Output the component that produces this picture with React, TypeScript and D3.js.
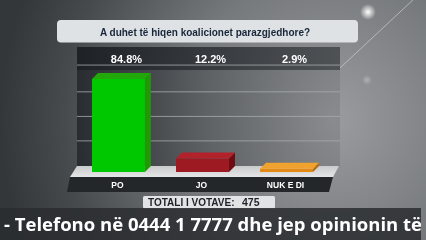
import React from "react";
import * as d3 from "d3";

const categories = ["PO", "JO", "NUK E DI"];
const values = [84.8, 12.2, 2.9];
const valueLabels = ["84.8%", "12.2%", "2.9%"];
const title = "A duhet të hiqen koalicionet parazgjedhore?";
const totalLabel = "TOTALI I VOTAVE:";
const totalVotes = "475";
const ticker = "- Telefono në 0444 1 7777 dhe jep opinionin të";
const gridValues = [22.9, 45.2, 67.6, 92];

const colors = [
  { front: "#00c800", side: "#1f9a06", top: "#22a80a" },
  { front: "#9e1a22", side: "#6e0c12", top: "#b2222a" },
  { front: "#e48a14", side: "#b86a0a", top: "#f0a22e" },
];

const W = 426;
const H = 240;
const DX = 6;
const DY = -6;

export default function App() {
  const x = d3.scaleBand<string>().domain(categories).range([92, 313]).paddingInner(0.37).paddingOuter(0);
  const y = d3.scaleLinear().domain([0, 100]).range([172, 62.3]);
  const base = y(0);
  const font = "'Liberation Sans', Arial, sans-serif";

  return (
    <svg width={W} height={H} style={{ position: "fixed", left: 0, top: 0 }}>
      <defs>
        <radialGradient id="bg" cx="330" cy="120" r="330" gradientUnits="userSpaceOnUse">
          <stop offset="0" stopColor="#9a9c9e" />
          <stop offset="0.45" stopColor="#76797c" />
          <stop offset="0.8" stopColor="#484b4e" />
          <stop offset="1" stopColor="#34373a" />
        </radialGradient>
        <linearGradient id="plot" x1="77" x2="340" y1="0" y2="0" gradientUnits="userSpaceOnUse">
          <stop offset="0" stopColor="#23272b" stopOpacity="0.85" />
          <stop offset="0.5" stopColor="#3a3e42" stopOpacity="0.45" />
          <stop offset="1" stopColor="#5a5e62" stopOpacity="0.25" />
        </linearGradient>
        <linearGradient id="head" x1="77" x2="340" y1="0" y2="0" gradientUnits="userSpaceOnUse">
          <stop offset="0" stopColor="#1c2024" stopOpacity="0.95" />
          <stop offset="1" stopColor="#3a3e42" stopOpacity="0.75" />
        </linearGradient>
        <linearGradient id="floor" x1="0" x2="0" y1="166" y2="177" gradientUnits="userSpaceOnUse">
          <stop offset="0" stopColor="#c8cacc" />
          <stop offset="1" stopColor="#e4e6e8" />
        </linearGradient>
        <radialGradient id="glow">
          <stop offset="0" stopColor="#ffffff" stopOpacity="1" />
          <stop offset="0.4" stopColor="#ffffff" stopOpacity="0.6" />
          <stop offset="1" stopColor="#ffffff" stopOpacity="0" />
        </radialGradient>
        <clipPath id="tickclip">
          <rect x={0} y={208} width={421} height={32} />
        </clipPath>
      </defs>

      <rect x={0} y={0} width={W} height={H} fill="url(#bg)" />
      <line x1={340} y1={68} x2={415} y2={-2} stroke="#d8dadc" strokeOpacity={0.6} strokeWidth={1} />
      <circle cx={368} cy={12} r={8} fill="url(#glow)" />
      <circle cx={367} cy={80} r={5} fill="url(#glow)" opacity={0.3} />

      {/* title */}
      <rect x={57} y={20} width={301} height={22.5} rx={4} fill="#dfe2e5" />
      <text x={205} y={35.5} textAnchor="middle" fontFamily={font} fontWeight="bold" fontSize={10} fill="#17263a">
        {title}
      </text>

      {/* plot area */}
      <rect x={77} y={70} width={263} height={97} fill="url(#plot)" />
      <rect x={77} y={47} width={263} height={23} fill="url(#head)" />
      {gridValues.map((g, i) => (
        <line key={i} x1={77} x2={340} y1={y(g) + DY} y2={y(g) + DY} stroke="#a8abae" strokeOpacity={0.8} strokeWidth={1} />
      ))}
      {valueLabels.map((v, i) => (
        <text key={v} x={(x(categories[i]) as number) + x.bandwidth() / 2 + 8} y={62.5} textAnchor="middle" fontFamily={font} fontWeight="bold" fontSize={11} fill="#ffffff">
          {v}
        </text>
      ))}

      {/* floor */}
      <polygon points="77,166 339,166 333,177 70,177" fill="url(#floor)" />
      <polygon points="70,177 333,177 329,192 67,192" fill="#24272a" />

      {/* bars */}
      {categories.map((c, i) => {
        const x0 = x(c) as number;
        const x1 = x0 + x.bandwidth();
        const yt = y(values[i]);
        const col = colors[i];
        return (
          <g key={c}>
            <polygon points={`${x1},${yt} ${x1 + DX},${yt + DY} ${x1 + DX},${base + DY} ${x1},${base}`} fill={col.side} />
            <polygon points={`${x0},${yt} ${x0 + DX},${yt + DY} ${x1 + DX},${yt + DY} ${x1},${yt}`} fill={col.top} />
            <rect x={x0} y={yt} width={x.bandwidth()} height={base - yt} fill={col.front} />
          </g>
        );
      })}

      {categories.map((c) => (
        <text key={c} x={(x(c) as number) + x.bandwidth() / 2 - 1} y={187.5} textAnchor="middle" fontFamily={font} fontWeight="bold" fontSize={8.5} fill="#ffffff">
          {c}
        </text>
      ))}

      {/* total */}
      <rect x={143} y={196} width={132} height={12.5} rx={1.5} fill="#e2e3e4" />
      <text x={148} y={206.3} fontFamily={font} fontWeight="bold" fontSize={10} fill="#1e2228">
        {totalLabel}
      </text>
      <text x={242} y={206.3} fontFamily={font} fontWeight="bold" fontSize={10.5} fill="#1e2228">
        {totalVotes}
      </text>

      {/* ticker */}
      <rect x={0} y={208} width={421} height={32} fill="#2a2d30" fillOpacity={0.85} />
      <g clipPath="url(#tickclip)">
        <text x={4} y={231} fontFamily="'Open Sans', sans-serif" fontWeight="bold" fontSize={18.5} fill="#ffffff">
          {ticker}
        </text>
      </g>
    </svg>
  );
}
